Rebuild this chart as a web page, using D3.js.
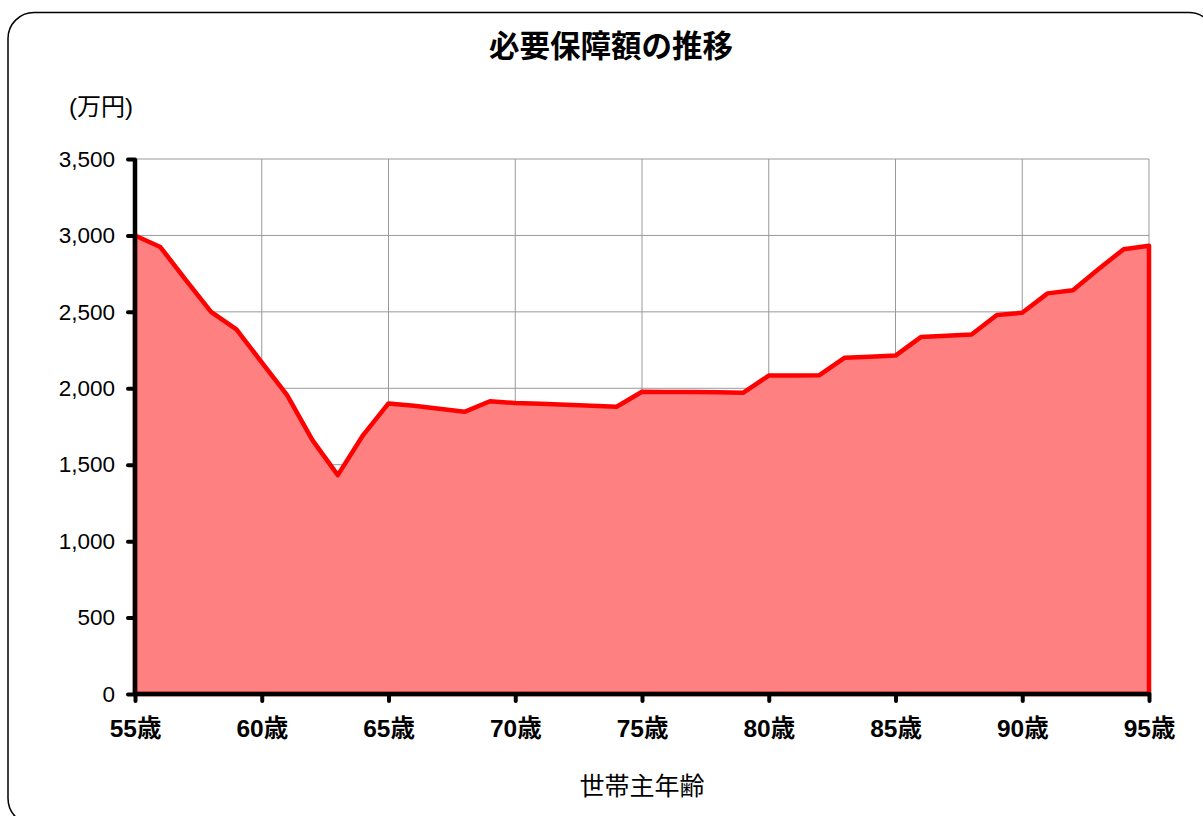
<!DOCTYPE html>
<html>
<head>
<meta charset="utf-8">
<script src="https://cdn.jsdelivr.net/npm/d3@7"></script>
<style>
  body { margin: 0; background: #fff; }
  text { font-family: "Liberation Sans", Arial, "Noto Sans CJK JP", sans-serif; }
</style>
</head>
<body>
<div id="chart"></div>
<script>
// ages 55..95 and the required coverage (万円)
const ages = d3.range(55, 96);
const amounts = [
    3000, 2924, 2710, 2500, 2385, 2170, 1955, 1661, 1432, 1694,
    1901, 1885, 1866, 1846, 1915, 1903, 1899, 1892, 1885, 1879,
    1977, 1976, 1975, 1974, 1971, 2083, 2084, 2086, 2200, 2206,
    2214, 2335, 2343, 2352, 2479, 2494, 2621, 2642, 2778, 2910,
    2932
];
const yTicks = [0, 500, 1000, 1500, 2000, 2500, 3000, 3500];
const xTicks = [55, 60, 65, 70, 75, 80, 85, 90, 95];

const width = 1203,
    height = 816;

const svg = d3.select("#chart")
    .append("svg")
    .attr("width", width)
    .attr("height", height);

// rounded frame, runs off the right and bottom edges
svg.append("rect")
    .attr("x", 8).attr("y", 12.5)
    .attr("width", 1207).attr("height", 812)
    .attr("rx", 26)
    .attr("fill", "none")
    .attr("stroke", "#000")
    .attr("stroke-width", 1.5);

const x = d3.scaleLinear()
    .domain([55, 95])
    .range([135, 1149]);

const y = d3.scaleLinear()
    .domain([0, 3500])
    .range([694, 159]);

// grid
svg.append("g")
    .selectAll("line.h")
    .data(yTicks.slice(1))
    .join("line")
    .attr("x1", x(55)).attr("x2", x(95))
    .attr("y1", d => y(d)).attr("y2", d => y(d))
    .attr("stroke", "#999")
    .attr("stroke-width", 1);

svg.append("g")
    .selectAll("line.v")
    .data(xTicks.slice(1))
    .join("line")
    .attr("x1", d => x(d)).attr("x2", d => x(d))
    .attr("y1", y(0)).attr("y2", y(3500))
    .attr("stroke", "#999")
    .attr("stroke-width", 1);

const data = ages.map((a, i) => ({ age: a, v: amounts[i] }));

const area = d3.area()
    .x(d => x(d.age))
    .y0(y(0))
    .y1(d => y(d.v));

svg.append("path")
    .datum(data)
    .attr("d", area)
    .attr("fill", "#FF8080")
    .attr("stroke", "#FF0000")
    .attr("stroke-width", 4.5)
    .attr("stroke-linejoin", "round");

// y axis
const yAxis = svg.append("g")
    .attr("transform", `translate(${x(55)},0)`)
    .call(d3.axisLeft(y).tickValues(yTicks).tickSize(7).tickPadding(13)
        .tickFormat(d3.format(",")));
yAxis.select(".domain")
    .attr("d", `M0,${y(3500)}V${y(0)}`)
    .attr("stroke", "#000").attr("stroke-width", 4.5);
yAxis.selectAll(".tick line")
    .attr("stroke", "#000").attr("stroke-width", 4).attr("stroke-linecap", "round");
yAxis.selectAll(".tick text")
    .attr("font-size", 22.5)
    .attr("fill", "#000")
    .style("font-family", "'Liberation Sans', Arial, sans-serif");

// x axis
const xAxis = svg.append("g")
    .attr("transform", `translate(0,${y(0)})`)
    .call(d3.axisBottom(x).tickValues(xTicks).tickSize(7).tickPadding(19)
        .tickFormat(d => d + "歳"));
xAxis.select(".domain")
    .attr("d", `M${x(55)},0H${x(95)}`)
    .attr("stroke", "#000").attr("stroke-width", 4.5);
xAxis.selectAll(".tick line")
    .attr("stroke", "#000").attr("stroke-width", 4).attr("stroke-linecap", "round");
xAxis.selectAll(".tick text")
    .attr("font-size", 24.5)
    .attr("font-weight", "bold")
    .attr("fill", "#000")
    .style("font-family", "'Liberation Sans', Arial, 'Noto Sans CJK JP', sans-serif");

// titles
svg.append("text")
    .attr("x", 611).attr("y", 57)
    .attr("text-anchor", "middle")
    .attr("font-size", 30.5)
    .attr("font-weight", "bold")
    .style("font-family", "'Noto Sans CJK JP', sans-serif")
    .text("必要保障額の推移");

svg.append("text")
    .attr("x", 69).attr("y", 115)
    .attr("font-size", 24)
    .text("(万円)");

svg.append("text")
    .attr("x", 642).attr("y", 795)
    .attr("text-anchor", "middle")
    .attr("font-size", 25)
    .text("世帯主年齢");
</script>
</body>
</html>
